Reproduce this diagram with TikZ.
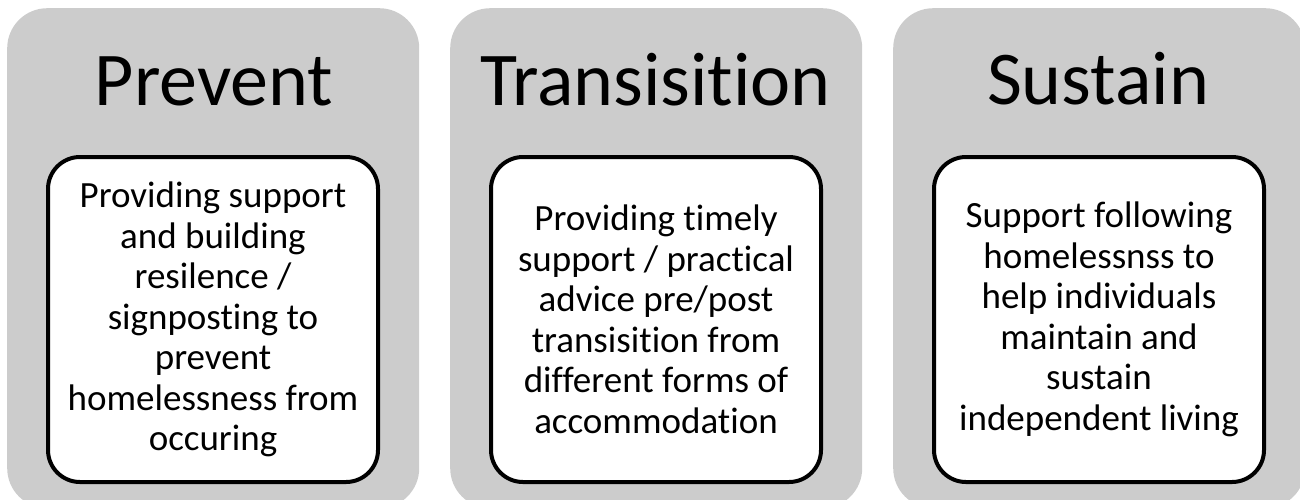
\documentclass[tikz,border=0pt]{standalone}
\usepackage{fontspec}
\setmainfont{Carlito}[Ligatures=NoCommon]
\usetikzlibrary{
    positioning,           % Relative positioning
    shapes                 % Additional shapes
}
\definecolor{panelgrey}{RGB}{204,204,204}
\tikzset{
    panel/.style={fill=panelgrey, rounded corners=40pt, inner sep=0pt,
        minimum width=412pt, minimum height=500pt, anchor=north west},
    heading/.style={font=\fontsize{76}{90}\selectfont, anchor=base},
    card/.style={draw=black, fill=white, line width=4pt, rounded corners=32pt,
        minimum width=330pt, minimum height=325pt, align=center,
        font=\fontsize{37}{40.5}\selectfont}
}

\begin{document}
\begin{tikzpicture}[x=1pt,y=-1pt]
    \useasboundingbox (0,0) rectangle (1300,499);
    % grey panels
    \node[panel] (prevent) at (7,8) {};
    \node[panel] (transition) at (450,8) {};
    \node[panel] (sustain) at (893,8) {};
    % headings
    \node[heading] (preventtitle) at (214,105) {Prevent};
    \node[heading] (transitiontitle) at (655.5,105) {Transisition};
    \node[heading] (sustaintitle) at (1098,104) {Sustain};
    % white cards
    \node[card] (preventcard) at (213,319.5) {Providing support\\and building\\resilence /\\signposting to\\prevent\\homelessness from\\occuring};
    \node[card] (transitioncard) at (656,319.5) {Providing timely\\support / practical\\advice pre/post\\transisition from\\different forms of\\accommodation};
    \node[card] (sustaincard) at (1099,319.5) {Support following\\homelessnss to\\help individuals\\maintain and\\sustain\\independent living};
\end{tikzpicture}
\end{document}
